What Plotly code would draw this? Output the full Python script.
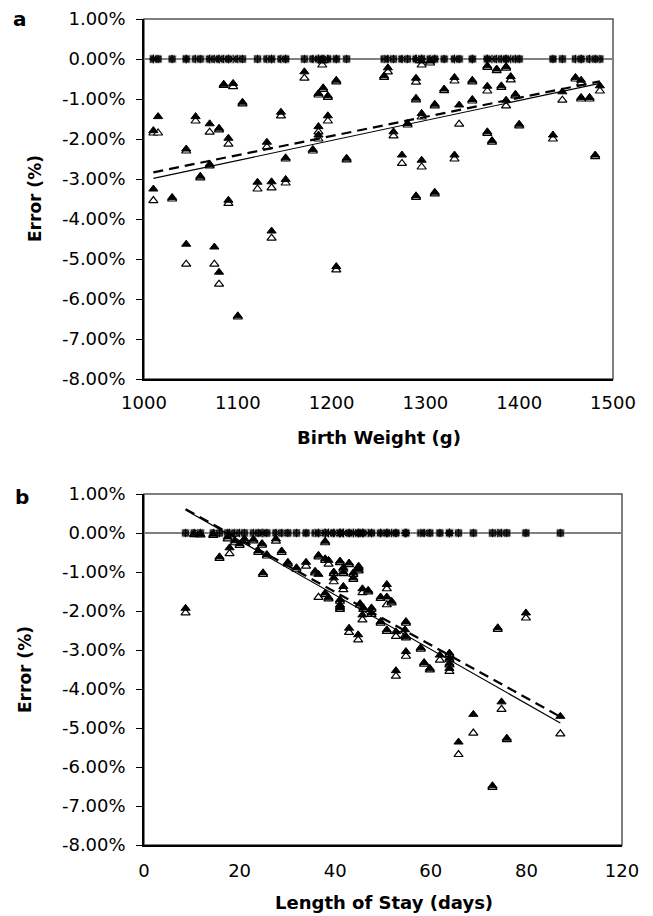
import numpy as np
import plotly.graph_objects as go

W, H = 653, 916

# ---------------- Panel a: Birth weight ----------------
bw = [1010, 1010, 1015, 1030, 1045, 1045, 1055, 1060, 1070, 1070, 1075, 1080, 1080,
      1085, 1095, 1090, 1090, 1100, 1105, 1121, 1131, 1136, 1136, 1146, 1151, 1151,
      1171, 1180, 1186, 1186, 1186, 1191, 1196, 1196, 1205, 1216, 1205, 1190,
      1256, 1260, 1266, 1275, 1281, 1290, 1290, 1290, 1296, 1296, 1296, 1305, 1310,
      1310, 1320, 1331, 1331, 1336, 1350, 1350, 1366, 1366, 1371, 1366, 1376, 1386,
      1381, 1391, 1386, 1396, 1400, 1436, 1446, 1460, 1466, 1466, 1475, 1486, 1481]
a_filled = [-3.25, -1.79, -1.44, -3.46, -2.25, -4.63, -1.44, -2.93, -1.62, -2.63, -4.70, -1.73, -5.33,
            -0.63, -0.61, -1.98, -3.53, -6.42, -1.08, -3.08, -2.08, -3.07, -4.30, -1.33, -2.47, -3.01,
            -0.32, -2.26, -1.69, -1.90, -0.86, -0.72, -0.92, -1.42, -0.53, -2.48, -5.19, -0.05,
            -0.42, -0.22, -1.82, -2.40, -1.61, -0.48, -0.98, -3.42, -2.53, -1.36, -0.05, -0.05, -1.13,
            -3.33, -0.75, -0.46, -2.40, -1.15, -0.53, -1.01, -0.68, -1.82, -2.04, -0.17, -0.25, -0.19,
            -0.67, -0.44, -1.03, -0.88, -1.63, -1.90, -0.82, -0.46, -0.53, -0.96, -0.96, -0.67, -2.40]
a_open = [-3.54, -1.85, -1.85, -3.50, -2.30, -5.13, -1.55, -2.97, -1.83, -2.67, -5.13, -1.77, -5.63,
          -0.66, -0.69, -2.13, -3.61, -6.45, -1.12, -3.25, -2.20, -3.22, -4.48, -1.42, -2.50, -3.10,
          -0.48, -2.30, -1.82, -2.00, -0.90, -0.76, -0.96, -1.55, -0.57, -2.52, -5.27, -0.15,
          -0.46, -0.32, -1.92, -2.61, -1.65, -0.58, -1.02, -3.46, -2.70, -1.45, -0.15, -0.10, -1.17,
          -3.37, -0.79, -0.55, -2.50, -1.63, -0.57, -1.05, -0.80, -1.86, -2.08, -0.21, -0.29, -0.23,
          -0.71, -0.52, -1.17, -0.92, -1.67, -2.00, -1.03, -0.50, -0.60, -1.00, -1.00, -0.80, -2.44]
a_zero = [0.0] * len(bw)

# ---------------- Panel b: Length of stay ----------------
los = [8.7, 10.5, 11.8, 14.5, 15.8, 17.9, 17.5, 19.0, 20.0, 21.0, 24.9, 22.9, 24.7, 23.9, 25.7,
       27.6, 28.8, 30.1, 31.9, 33.9, 35.8, 36.5, 36.5, 37.9, 37.9, 38.6, 37.9, 38.6, 39.7,
       39.7, 41.0, 42.9, 41.7, 41.7, 43.8, 43.8, 44.9, 44.9, 41.7, 41.0, 41.0, 41.0, 45.7,
       46.9, 50.8, 49.5, 50.8, 51.8, 45.2, 45.9, 47.6, 47.6, 45.7, 42.9, 44.8, 49.5, 50.8,
       52.7, 54.8, 54.6, 54.8, 54.8, 52.7, 57.9, 58.6, 59.8, 61.9, 63.9, 63.9, 63.9, 63.9,
       74.0, 79.9, 68.9, 65.8, 72.9, 74.8, 75.9, 87.1]
b_filled = [-1.93, -0.02, -0.03, -0.03, -0.61, -0.38, -0.10, -0.20, -0.28, -0.15, -1.02, -0.16, -0.27, -0.46, -0.55,
            -0.15, -0.46, -0.75, -0.89, -0.75, -0.98, -0.57, -1.06, -0.21, -0.66, -0.70, -1.54, -1.65, -1.00,
            -1.15, -0.72, -0.77, -0.89, -1.00, -1.02, -1.15, -0.85, -0.93, -1.37, -1.71, -1.84, -1.92, -1.43,
            -1.47, -1.32, -1.64, -1.64, -1.75, -1.81, -1.92, -1.92, -2.05, -2.10, -2.44, -2.61, -2.27, -2.48,
            -2.53, -2.27, -2.48, -2.65, -3.04, -3.53, -2.94, -3.32, -3.47, -3.13, -3.08, -3.21, -3.34, -3.47,
            -2.43, -2.05, -4.65, -5.36, -6.48, -4.33, -5.26, -4.70]
b_open = [-2.05, -0.04, -0.05, -0.06, -0.65, -0.53, -0.15, -0.25, -0.32, -0.20, -1.06, -0.20, -0.31, -0.50, -0.59,
          -0.21, -0.50, -0.79, -0.93, -0.85, -1.02, -0.61, -1.65, -0.25, -0.70, -0.80, -1.58, -1.69, -1.04,
          -1.25, -0.76, -0.81, -0.93, -1.04, -1.06, -1.19, -0.89, -0.97, -1.45, -1.75, -1.88, -1.96, -1.53,
          -1.51, -1.43, -1.68, -1.84, -1.79, -1.85, -1.96, -1.96, -2.09, -2.23, -2.55, -2.74, -2.31, -2.52,
          -2.65, -2.31, -2.64, -2.69, -3.16, -3.67, -2.98, -3.36, -3.51, -3.26, -3.12, -3.25, -3.38, -3.55,
          -2.47, -2.18, -5.13, -5.68, -6.52, -4.52, -5.30, -5.15]
b_zero = [0.0] * len(los)

# ---------------- Axis labels ----------------
y_ticks = [1, 0, -1, -2, -3, -4, -5, -6, -7, -8]
y_labels = [f"{v:.2f}%" for v in y_ticks]
a_xticks = [1000, 1100, 1200, 1300, 1400, 1500]
b_xticks = [0, 20, 40, 60, 80, 100]
b_xlabels = ["0", "20", "40", "60", "80", "120"]

FONT = "DejaVu Sans"
fig = go.Figure()


def add_panel(x, filled, opn, zero, xa, ya):
    fig.add_trace(go.Scatter(x=x, y=zero, mode="markers", xaxis=xa, yaxis=ya,
                             marker=dict(symbol="square-x", size=8, color="#1a1a1a",
                                         line=dict(width=0.8, color="#dddddd")),
                             showlegend=False, hoverinfo="skip"))
    fig.add_trace(go.Scatter(x=x, y=zero, mode="markers", xaxis=xa, yaxis=ya,
                             marker=dict(symbol="asterisk-open", size=7, color="black",
                                         line=dict(width=1, color="black")),
                             showlegend=False, hoverinfo="skip"))
    fig.add_trace(go.Scatter(x=x, y=opn, mode="markers", xaxis=xa, yaxis=ya,
                             marker=dict(symbol="triangle-up", size=8, color="white",
                                         line=dict(width=1.2, color="black")),
                             showlegend=False))
    fig.add_trace(go.Scatter(x=x, y=filled, mode="markers", xaxis=xa, yaxis=ya,
                             marker=dict(symbol="triangle-up", size=8, color="black",
                                         line=dict(width=1, color="black")),
                             showlegend=False))
    xs = np.array([min(x), max(x)])
    ko = np.polyfit(x, opn, 1)
    kf = np.polyfit(x, filled, 1)
    fig.add_trace(go.Scatter(x=xs, y=np.polyval(ko, xs), mode="lines", xaxis=xa, yaxis=ya,
                             line=dict(color="black", width=1.2), showlegend=False))
    fig.add_trace(go.Scatter(x=xs, y=np.polyval(kf, xs), mode="lines", xaxis=xa, yaxis=ya,
                             line=dict(color="black", width=2.2, dash="10px,6px"), showlegend=False))


add_panel(bw, a_filled, a_open, a_zero, "x", "y")
add_panel(los, b_filled, b_open, b_zero, "x2", "y2")

ax_common = dict(showgrid=False, showline=True, linecolor="black", linewidth=1.5, automargin=False,
                 tickfont=dict(family=FONT, size=18, color="black"))

fig.update_layout(
    width=W, height=H, margin=dict(l=0, r=0, t=0, b=0, pad=0, autoexpand=False),
    paper_bgcolor="white", plot_bgcolor="white",
    xaxis=dict(domain=[144 / W, 613 / W], range=[1000, 1500], anchor="y",
               tickvals=a_xticks, ticks="outside", ticklen=7, tickcolor="rgba(0,0,0,0)",
               zeroline=False, **ax_common),
    yaxis=dict(domain=[1 - 379 / H, 1 - 19 / H], range=[-8, 1], anchor="x",
               tickvals=y_ticks, ticktext=y_labels, ticks="outside", ticklen=6, tickcolor="black",
               tickwidth=1.2, ticklabelstandoff=7,
               zeroline=True, zerolinecolor="#808080", zerolinewidth=1.5, **ax_common),
    xaxis2=dict(domain=[144 / W, 622 / W], range=[0, 100], anchor="y2",
                tickvals=b_xticks, ticktext=b_xlabels, ticks="outside", ticklen=9,
                tickcolor="rgba(0,0,0,0)", zeroline=False, **ax_common),
    yaxis2=dict(domain=[1 - 845 / H, 1 - 494 / H], range=[-8, 1], anchor="x2",
                tickvals=y_ticks, ticktext=y_labels, ticks="outside", ticklen=6, tickcolor="black",
                tickwidth=1.2, ticklabelstandoff=7,
                zeroline=True, zerolinecolor="#808080", zerolinewidth=1.5, **ax_common),
)

for xr, yr in (("x", "y"), ("x2", "y2")):
    fig.add_shape(type="rect", xref=f"{xr} domain", yref=f"{yr} domain", x0=0, x1=1, y0=0, y1=1,
                  line=dict(color="#555555", width=1.5), layer="below")

bold = dict(family=FONT, size=18, color="black")
ann = [
    dict(text="<b>a</b>", x=20 / W, y=1 - 19 / H, font=dict(family=FONT, size=20, color="black")),
    dict(text="<b>b</b>", x=22 / W, y=1 - 497 / H, font=dict(family=FONT, size=20, color="black")),
    dict(text="<b>Birth Weight (g)</b>", x=379 / W, y=1 - 437 / H, font=bold),
    dict(text="<b>Length of Stay (days)</b>", x=384 / W, y=1 - 902 / H, font=bold),
    dict(text="<b>Error (%)</b>", x=35 / W, y=1 - 199 / H, font=dict(family=FONT, size=17, color="black"), textangle=-90),
    dict(text="<b>Error (%)</b>", x=25 / W, y=1 - 669 / H, font=dict(family=FONT, size=17, color="black"), textangle=-90),
]
for a in ann:
    fig.add_annotation(xref="paper", yref="paper", showarrow=False, xanchor="center", yanchor="middle", **a)

fig.write_html("out.html", config={"displayModeBar": False},
               post_script="document.body.style.margin='0px';document.body.style.overflow='hidden';")
